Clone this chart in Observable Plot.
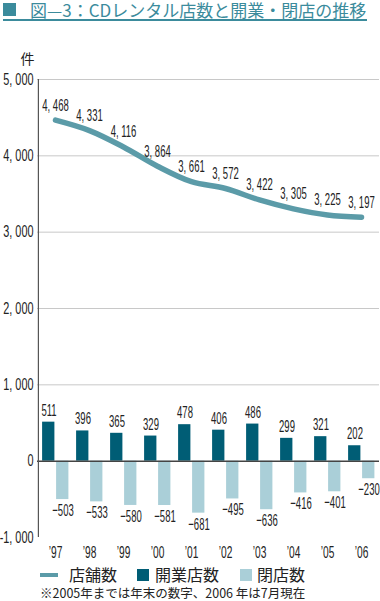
<!DOCTYPE html>
<html><head><meta charset="utf-8">
<script src="https://cdn.jsdelivr.net/npm/d3@7"></script>
<script src="https://cdn.jsdelivr.net/npm/@observablehq/plot@0.6"></script>
<style>
html,body{margin:0;padding:0;background:#fff;}
body{position:relative;width:380px;height:601px;overflow:hidden;font-family:"Noto Sans CJK JP","Noto Sans",sans-serif;}
#title{position:absolute;left:0;top:0;width:380px;height:22px;}
#title .sq{position:absolute;left:3px;top:3px;width:13px;height:13px;background:#3b8b9c;}
#title .tx{position:absolute;left:30px;top:1px;font-size:17px;line-height:17px;color:#3b8b9c;white-space:nowrap;}
#title .ul{position:absolute;left:3px;top:19px;width:364px;height:1.5px;background:#3b8b9c;}
#chart{position:absolute;left:0;top:40px;}
.lg{position:absolute;font-size:16px;color:#222;white-space:nowrap;line-height:15px;top:567px;}
.sw{position:absolute;}
#note{position:absolute;left:40px;top:587px;font-size:12.5px;line-height:12.5px;color:#222;white-space:nowrap;}
</style>
</head><body>
<div id="title"><div class="sq"></div><div class="tx">図—3：CDレンタル店数と開業・閉店の推移</div><div class="ul"></div></div>
<div id="chart"></div>
<div class="sw" style="left:40px;top:573px;width:18px;height:4px;background:#5b9ba8"></div>
<div class="lg" style="left:69px;">店舗数</div>
<div class="sw" style="left:137px;top:569px;width:12px;height:12px;background:#005d75"></div>
<div class="lg" style="left:155px;">開業店数</div>
<div class="sw" style="left:240px;top:569px;width:12px;height:12px;background:#aacfd8"></div>
<div class="lg" style="left:257px;">閉店数</div>
<div id="note">※2005年までは年末の数字、2006 年は7月現在</div>
<script>
const years = ["’97","’98","’99","’00","’01","’02","’03","’04","’05","’06"];
const stores = [4468,4331,4116,3864,3661,3572,3422,3305,3225,3197];
const openings = [511,396,365,329,478,406,486,299,321,202];
const closings = [-503,-533,-580,-581,-681,-495,-636,-416,-401,-230];
const yTicks = [-1000,0,1000,2000,3000,4000,5000];
const yTickLabels = ["-1, 000","0","1, 000","2, 000","3, 000","4, 000","5, 000"];

const lineColor = "#5b9ba8", darkColor = "#005d75", lightColor = "#aacfd8";
const rows = years.map((y,i)=>({year:y, stores:stores[i], open:openings[i], close:closings[i]}));
const fmt = v => { const s = d3.format(",")(Math.abs(v)).replace(",", ", "); return v < 0 ? "−" + s : s; };
const tickMap = new Map(yTicks.map((t,i)=>[t, yTickLabels[i]]));
const numFont = "'Liberation Sans',Arial,sans-serif";

const chart = Plot.plot({
  width: 380, height: 522,
  marginTop: 39, marginLeft: 37, marginRight: 1, marginBottom: 25,
  x: {type: "band", domain: years, padding: 0},
  y: {domain: [-1000, 5000]},
  style: {fontFamily: numFont, fontSize: "16px", color: "#222", background: "white"},
  marks: [
    Plot.ruleY(yTicks.filter(t => t !== 0 && t !== -1000), {stroke: "#c8c8c8", strokeWidth: 1}),
    Plot.barY(rows, {x: "year", y: "open", fill: darkColor, insetLeft: 4.1, insetRight: 17.6}),
    Plot.barY(rows, {x: "year", y: "close", fill: lightColor, insetLeft: 18.1, insetRight: 3.6}),
    Plot.ruleY([0], {stroke: "#444", strokeWidth: 1.5}),
    Plot.line(rows, {x: "year", y: "stores", stroke: lineColor, strokeWidth: 5.5, curve: "catmull-rom"}),
    Plot.text(rows, {x: "year", y: "stores", text: d => fmt(d.stores), dy: -15, fontSize: 17, ariaDescription: "num"}),
    Plot.text(rows, {x: "year", y: "open", text: d => fmt(d.open), dx: -6.5, dy: -12, fontSize: 17, ariaDescription: "num"}),
    Plot.text(rows, {x: "year", y: "close", text: d => fmt(d.close), dx: 7.5, dy: 11, fontSize: 17, ariaDescription: "num"}),
    Plot.ruleX([years[0]], {y1: -1000, y2: 5000, dx: -17.1, stroke: "#555", strokeWidth: 1.2}),
    Plot.axisY({ticks: yTicks, tickFormat: d => tickMap.get(d), tickSize: 0, tickPadding: 4, label: null, fontSize: 16}),
    Plot.axisX({tickSize: 0, tickPadding: 8, label: null, fontSize: 17}),
    Plot.text(["件"], {frameAnchor: "top-left", textAnchor: "middle", lineAnchor: "middle", dx: -10, dy: -20, fontSize: 14, fontFamily: "'Noto Sans CJK JP',sans-serif"})
  ]
});
document.getElementById("chart").appendChild(chart);

// condense the numeric labels horizontally (the reference uses a compressed typeface)
function condense(selector, s) {
  chart.querySelectorAll(selector).forEach(t => {
    const tr = t.getAttribute("transform") || "";
    const m = tr.match(/translate\(\s*([-\d.e]+)[ ,]+([-\d.e]+)\s*\)/);
    if (!m) return;
    t.setAttribute("transform", `translate(${m[1]},${m[2]}) scale(${s},1)`);
  });
}
condense('g[aria-description="num"] text', 0.56);
condense('g[aria-label="x-axis tick label"] text', 0.6);
condense('g[aria-label="y-axis tick label"] text', 0.68);
</script>
</body></html>
